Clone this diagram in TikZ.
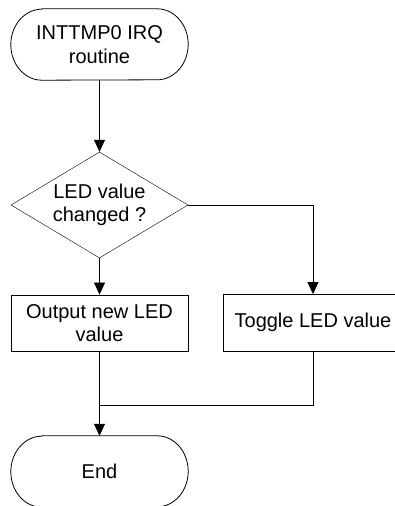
\documentclass[tikz,border=0pt]{standalone}
\usepackage{fontspec}
\setmainfont{Liberation Sans}
\usetikzlibrary{shapes.geometric,arrows.meta,calc}
\tikzset{
  every node/.style={font=\fontsize{20}{23.5}\selectfont, align=center},
  term/.style={draw=none, minimum width=177pt, minimum height=71pt, inner sep=0pt},
  decision/.style={diamond, draw, aspect=1.67, minimum width=177pt, minimum height=106pt, inner sep=0pt},
  proc/.style={rectangle, draw, minimum height=56.5pt, inner sep=0pt},
  line/.style={draw, line width=0.8pt},
  arrow/.style={line, -{Triangle[length=12pt,width=11pt]}},
  outline/.style={draw, line width=0.8pt}
}
\newcommand{\stadium}[1]{%
  \draw[outline] ([xshift=31pt]#1.north west) -- ([xshift=-31pt]#1.north east)
    arc[start angle=90, end angle=-90, x radius=31pt, y radius=35.5pt]
    -- ([xshift=31pt]#1.south west)
    arc[start angle=270, end angle=90, x radius=31pt, y radius=35.5pt] -- cycle;}
\begin{document}
\begin{tikzpicture}[x=1pt, y=-1pt]
\useasboundingbox (0,0) rectangle (395,506);
\clip (0,0) rectangle (395,506);
\node[proc, draw=none, minimum width=178pt] (tog) at (313,322.5) {Toggle LED value};
\draw[outline] (tog.north west) rectangle ([xshift=30pt]tog.south east);
\node[term] (start) at (99.5,44.5) {INTTMP0 IRQ\\routine};
\stadium{start}
\node[decision] (dec) at (99.5,205) {LED value\\changed ?};
\node[proc, minimum width=177pt] (out) at (99.5,323) {Output new LED\\value};
\node[term] (end) at (99.5,471.5) {End};
\stadium{end}
\coordinate (join) at (99.5,405);
\draw[arrow] (start.south) -- (dec.north);
\draw[arrow] (dec.south) -- (out.north);
\draw[arrow] (dec.east) -| (tog.north);
\draw[line] (tog.south) |- (join);
\draw[arrow] (out.south) -- (end.north);
\end{tikzpicture}
\end{document}
